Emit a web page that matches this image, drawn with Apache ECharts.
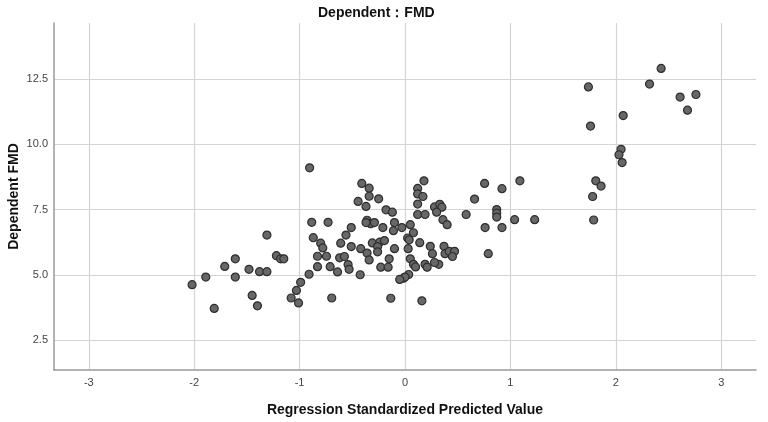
<!DOCTYPE html>
<html>
<head>
<meta charset="utf-8">
<script src="https://cdn.jsdelivr.net/npm/echarts@6/dist/echarts.min.js"></script>
<style>
html,body{margin:0;padding:0;background:#fff;}
#chart{width:768px;height:422px;}
</style>
</head>
<body>
<div id="chart"></div>
<script>
const titleText = 'Dependent：FMD';
const xAxisName = 'Regression Standardized Predicted Value';
const yAxisName = 'Dependent FMD';
const xTicks = [-3, -2, -1, 0, 1, 2, 3];
const yTicks = [2.5, 5.0, 7.5, 10.0, 12.5];

const xValues = [
  2.43, 1.74, 2.32, 2.61, 2.76, 2.68, 2.07, 1.76, 2.05, 2.03, 2.06, 1.81, 1.86, 1.78, 1.79,
  -1.31, -1.22, -1.18, -1.15, -1.71, -1.61, -1.48, -1.38, -1.31, -1.89, -1.61, -2.02, -1.45, -1.40, -1.81,
  -0.91, -0.99, -1.03, -1.08, -1.01, -0.695,
  -0.905, -0.885, -0.73, -0.87, -0.80, -0.78, -0.61, -0.83, -0.745, -0.83, -0.71, -0.64, -0.51, -0.56,
  -0.41, -0.34, -0.34, -0.25, -0.445, -0.37, -0.18, -0.12, -0.36, -0.325, -0.29, -0.37, -0.21, -0.10, -0.11,
  -0.03, 0.05, 0.08, 0.025, 0.04, -0.51, -0.42, -0.31, -0.24, -0.195, -0.26, -0.26, -0.36, -0.10, 0.03,
  -0.62, -0.575, -0.34, -0.15, 0.05, -0.54, -0.53, -0.23, -0.16, -0.425, -0.015, 0.035, -0.135,
  0.18, 0.12, 0.12, 0.17, 0.12, 0.12, 0.19, 0.28, 0.33, 0.35, 0.30, 0.36, 0.40, 0.58, 0.66,
  0.755, 0.92, 1.09, 0.87, 0.87, 0.87, 1.04, 1.23, 0.76, 0.92, 0.79, 0.14, 0.24, 0.37, 0.26,
  0.38, 0.42, 0.47, 0.45, 0.08, 0.10, 0.19, 0.21, 0.32, 0.28, 0.00, -0.05, 0.16
];
const yValues = [
  12.91, 12.20, 12.31, 11.81, 11.91, 11.31, 11.10, 10.70, 9.81, 9.60, 9.30, 8.60, 8.40, 8.00, 7.10,
  6.52, 5.73, 5.61, 5.61, 5.32, 5.61, 5.21, 5.12, 5.12, 4.91, 4.91, 4.62, 4.21, 3.81, 3.71,
  5.02, 4.71, 4.40, 4.11, 3.92, 4.11,
  9.10, 7.01, 7.01, 6.42, 6.21, 6.03, 6.21, 5.71, 5.71, 5.31, 5.31, 5.11, 6.81, 6.52,
  8.50, 8.32, 8.01, 7.91, 7.81, 7.62, 7.49, 7.40, 7.09, 6.96, 7.00, 7.00, 6.81, 7.00, 6.69,
  6.81, 6.92, 6.61, 6.41, 6.34, 6.08, 6.00, 6.22, 6.25, 6.31, 6.08, 5.88, 5.83, 6.00, 6.00,
  5.65, 5.70, 5.57, 5.61, 5.61, 5.39, 5.21, 5.29, 5.29, 5.00, 4.87, 5.01, 4.10,
  8.60, 8.31, 8.10, 8.00, 7.71, 7.31, 7.31, 7.60, 7.70, 7.59, 7.40, 7.11, 6.92, 7.31, 7.90,
  8.50, 8.30, 8.60, 7.50, 7.36, 7.21, 7.11, 7.11, 6.81, 6.81, 5.81, 6.23, 6.09, 6.09, 5.81,
  5.81, 5.90, 5.90, 5.70, 5.40, 5.30, 5.40, 5.29, 5.40, 5.47, 4.91, 4.82, 4.00
];

const points = xValues.map((x, i) => [x, yValues[i]]);

const chart = echarts.init(document.getElementById('chart'), null, {renderer: 'canvas'});
const font = '"Liberation Sans", Arial, sans-serif';
chart.setOption({
  animation: false,
  backgroundColor: '#ffffff',
  title: {
    text: titleText,
    left: 313,
    top: 1,
    textStyle: {fontFamily: font, fontSize: 14, fontWeight: 'bold', color: '#111'}
  },
  grid: {left: 54, right: 12, top: 23, bottom: 52, containLabel: false, outerBoundsMode: 'none'},
  xAxis: {
    type: 'value',
    min: -3.33,
    max: 3.33,
    name: xAxisName,
    nameLocation: 'middle',
    nameGap: 33,
    nameTextStyle: {fontFamily: font, fontSize: 14, fontWeight: 'bold', color: '#111'},
    axisLine: {show: true, onZero: false, lineStyle: {color: '#999', width: 1.5}},
    axisTick: {show: false, customValues: xTicks},
    axisLabel: {customValues: xTicks, fontFamily: font, fontSize: 11, color: '#444', margin: 7,
      formatter: v => String(Math.round(v))},
    splitLine: {show: true, lineStyle: {color: '#d4d4d4', width: 1.2}}
  },
  yAxis: {
    type: 'value',
    min: 1.35,
    max: 14.65,
    name: yAxisName,
    nameLocation: 'middle',
    nameGap: 33,
    nameMoveOverlap: false,
    nameRotate: 90,
    nameTextStyle: {fontFamily: font, fontSize: 14, fontWeight: 'bold', color: '#111'},
    axisLine: {show: true, onZero: false, lineStyle: {color: '#999', width: 1.5}},
    axisTick: {show: false, customValues: yTicks},
    axisLabel: {customValues: yTicks, fontFamily: font, fontSize: 11, color: '#444', margin: 6,
      formatter: v => v.toFixed(1)},
    splitLine: {show: true, lineStyle: {color: '#d4d4d4', width: 1.2}}
  },
  series: [{
    type: 'scatter',
    data: points,
    symbol: 'circle',
    symbolSize: 8,
    itemStyle: {color: '#676767', borderColor: '#2e2e2e', borderWidth: 1.2, opacity: 1}
  }]
});
</script>
</body>
</html>
